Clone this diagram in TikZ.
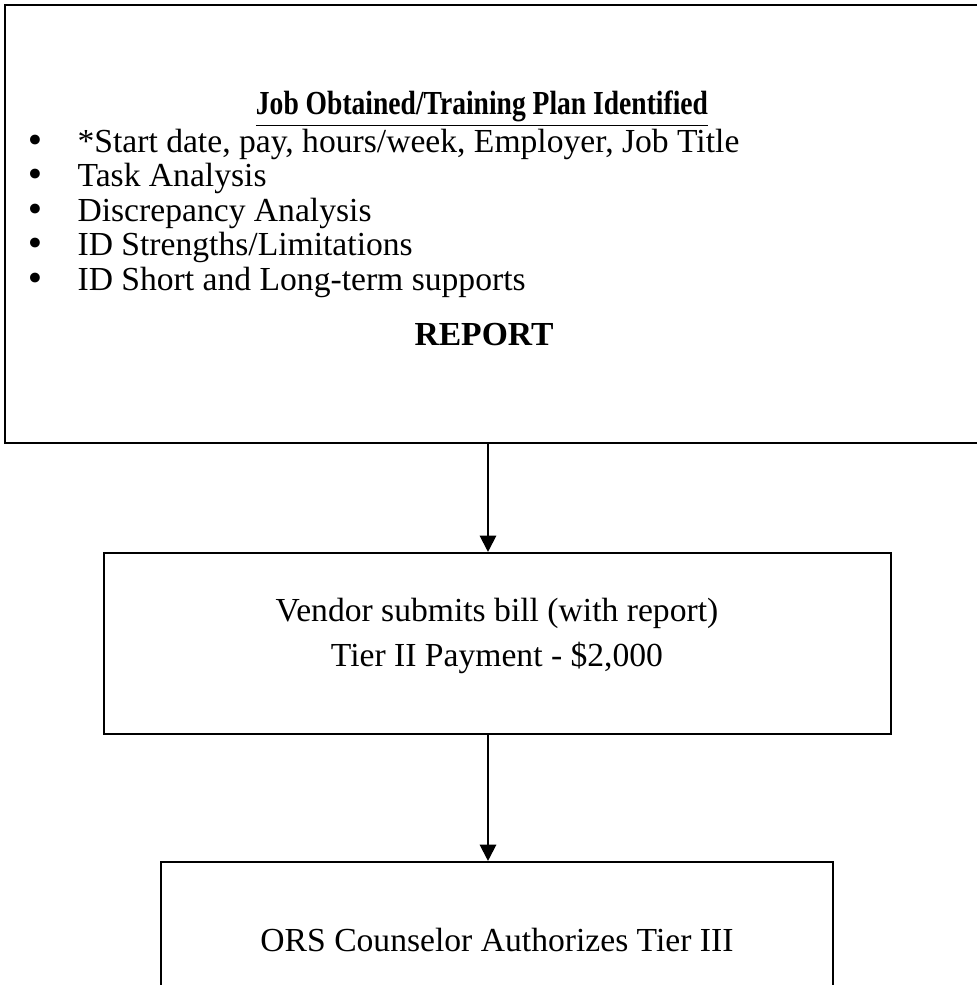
\documentclass[tikz,border=0pt]{standalone}
\usepackage{fontspec}
\setmainfont{Liberation Serif}
\newfontfamily\dotfont{DejaVu Sans}
\usetikzlibrary{arrows.meta,fit}
\begin{document}
\begin{tikzpicture}[x=0.357pt,y=-0.357pt,
  box/.style={draw, line width=0.75pt, inner sep=0pt},
  conn/.style={line width=0.75pt, -{Triangle[length=5.8pt,width=5.8pt]}},
  txt/.style={anchor=base, inner sep=0pt, font=\fontsize{12}{14}\selectfont},
  btxt/.style={anchor=base, inner sep=0pt, font=\fontsize{12}{14}\selectfont\bfseries},
  itm/.style={anchor=base west, inner sep=0pt, font=\fontsize{12}{14}\selectfont},
  dot/.style={anchor=base, inner sep=0pt, font=\dotfont\fontsize{12}{14}\selectfont}]
\useasboundingbox (0,0) rectangle (976,985);
% boxes
\coordinate (t1) at (5,5); \coordinate (t2) at (995,443);
\node[box, fit=(t1)(t2)] (top) {};
\coordinate (m1) at (104,553); \coordinate (m2) at (891,734);
\node[box, fit=(m1)(m2)] (mid) {};
\coordinate (b1) at (161,862); \coordinate (b2) at (833,1000);
\node[box, fit=(b1)(b2)] (bot) {};
% top texts
\node[btxt] (title) at (482,114) {\scalebox{0.82}[1]{\underline{Job Obtained/Training Plan Identified}}};
\node[dot] (d1) at (35,152) {•}; \node[itm] (i1) at (77,152) {*Start date, pay, hours/week, Employer, Job Title};
\node[dot] (d2) at (35,186) {•}; \node[itm] (i2) at (77,186) {Task Analysis};
\node[dot] (d3) at (35,221) {•}; \node[itm] (i3) at (77,221) {Discrepancy Analysis};
\node[dot] (d4) at (35,255) {•}; \node[itm] (i4) at (77,255) {ID Strengths/Limitations};
\node[dot] (d5) at (35,290) {•}; \node[itm] (i5) at (77,290) {ID Short and Long-term supports};
\node[btxt] (rep) at (484,345) {REPORT};
% middle texts
\node[txt] (v1) at (497,621) {Vendor submits bill (with report)};
\node[txt] (v2) at (497,666) {Tier II Payment - \$2,000};
% bottom text
\node[txt] (o1) at (497,951) {ORS Counselor Authorizes Tier III};
% connectors
\coordinate (ax) at (488,0);
\draw[conn] (top.south -| ax) -- (mid.north -| ax);
\draw[conn] (mid.south -| ax) -- (bot.north -| ax);
\end{tikzpicture}
\end{document}
